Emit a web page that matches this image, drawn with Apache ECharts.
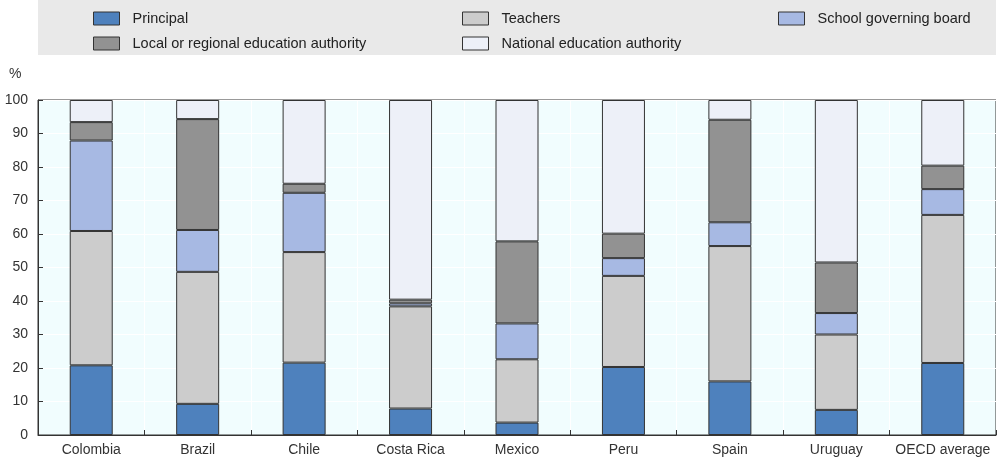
<!DOCTYPE html>
<html><head><meta charset="utf-8">
<script src="https://cdn.jsdelivr.net/npm/echarts@6/dist/echarts.min.js"></script>
<style>html,body{margin:0;padding:0;background:#fff}#c{width:1000px;height:459px}</style>
</head><body><div id="c"></div>
<script>
const categories = ["Colombia","Brazil","Chile","Costa Rica","Mexico","Peru","Spain","Uruguay","OECD average"];
const principal = [20.8, 9.3, 21.6, 7.9, 3.7, 20.3, 16.0, 7.5, 21.5];
const teachers = [40.1, 39.4, 33.0, 30.5, 18.9, 27.2, 40.4, 22.5, 44.2];
const schoolBoard = [27.0, 12.5, 17.7, 0.9, 10.7, 5.3, 7.1, 6.4, 7.7];
const localAuthority = [5.5, 33.1, 2.7, 1.1, 24.5, 7.3, 30.6, 15.1, 7.0];
const nationalAuthority = [6.6, 5.7, 25.0, 59.6, 42.2, 39.9, 5.9, 48.5, 19.6];
const yTicks = [0,10,20,30,40,50,60,70,80,90,100];

const FONT = '"Liberation Sans",Arial,sans-serif';
const seriesDefs = [
  {name:"Principal", data:principal, color:"#4e81bd"},
  {name:"Teachers", data:teachers, color:"#cccccc"},
  {name:"School governing board", data:schoolBoard, color:"#a7b9e3"},
  {name:"Local or regional education authority", data:localAuthority, color:"#929292"},
  {name:"National education authority", data:nationalAuthority, color:"#edf0f8"}
];
const legendPos = [
  {left:93, top:11}, {left:462, top:11}, {left:778, top:11},
  {left:93, top:36}, {left:462, top:36}
];
const chart = echarts.init(document.getElementById('c'), null, {renderer:'canvas'});
chart.setOption({
  animation:false,
  backgroundColor:'#ffffff',
  graphic:[
    {type:'rect', left:38, top:0, shape:{width:958, height:55}, style:{fill:'#e9e9e9'}, z:-1},
    {type:'text', left:9, top:67, style:{text:'%', font:'14px '+FONT, fill:'#333'}}
  ],
  legend: seriesDefs.map((s,i)=>({
    data:[s.name], left:legendPos[i].left, top:legendPos[i].top,
    itemWidth:26, itemHeight:13, itemGap:10, padding:0,
    icon:'rect',
    itemStyle:{borderColor:'#333', borderWidth:1},
    textStyle:{fontFamily:FONT, fontSize:14.5, color:'#222', padding:[0,0,0,8]}
  })),
  grid:{left:38, right:4, top:100, bottom:24, show:true, backgroundColor:'#f1fdfe', borderColor:'#333', borderWidth:1},
  xAxis:{
    type:'category', data:categories,
    axisLine:{lineStyle:{color:'#333'}},
    axisTick:{show:true, inside:true, length:5, lineStyle:{color:'#333'}},
    axisLabel:{fontFamily:FONT, fontSize:14, color:'#333', margin:8, interval:0},
    splitLine:{show:true, lineStyle:{color:'#ffffff', width:1}}
  },
  yAxis:{
    type:'value', min:0, max:100, interval:10,
    axisLine:{show:true, lineStyle:{color:'#333'}},
    axisTick:{show:true, inside:true, length:5, lineStyle:{color:'#333'}},
    axisLabel:{fontFamily:FONT, fontSize:14, color:'#333', margin:10},
    splitLine:{show:true, lineStyle:{color:'#ffffff', width:1}}
  },
  series: seriesDefs.map(s=>({
    name:s.name, type:'bar', stack:'total', data:s.data, barWidth:43,
    itemStyle:{color:s.color, borderColor:'#333', borderWidth:1}
  }))
});
</script></body></html>
